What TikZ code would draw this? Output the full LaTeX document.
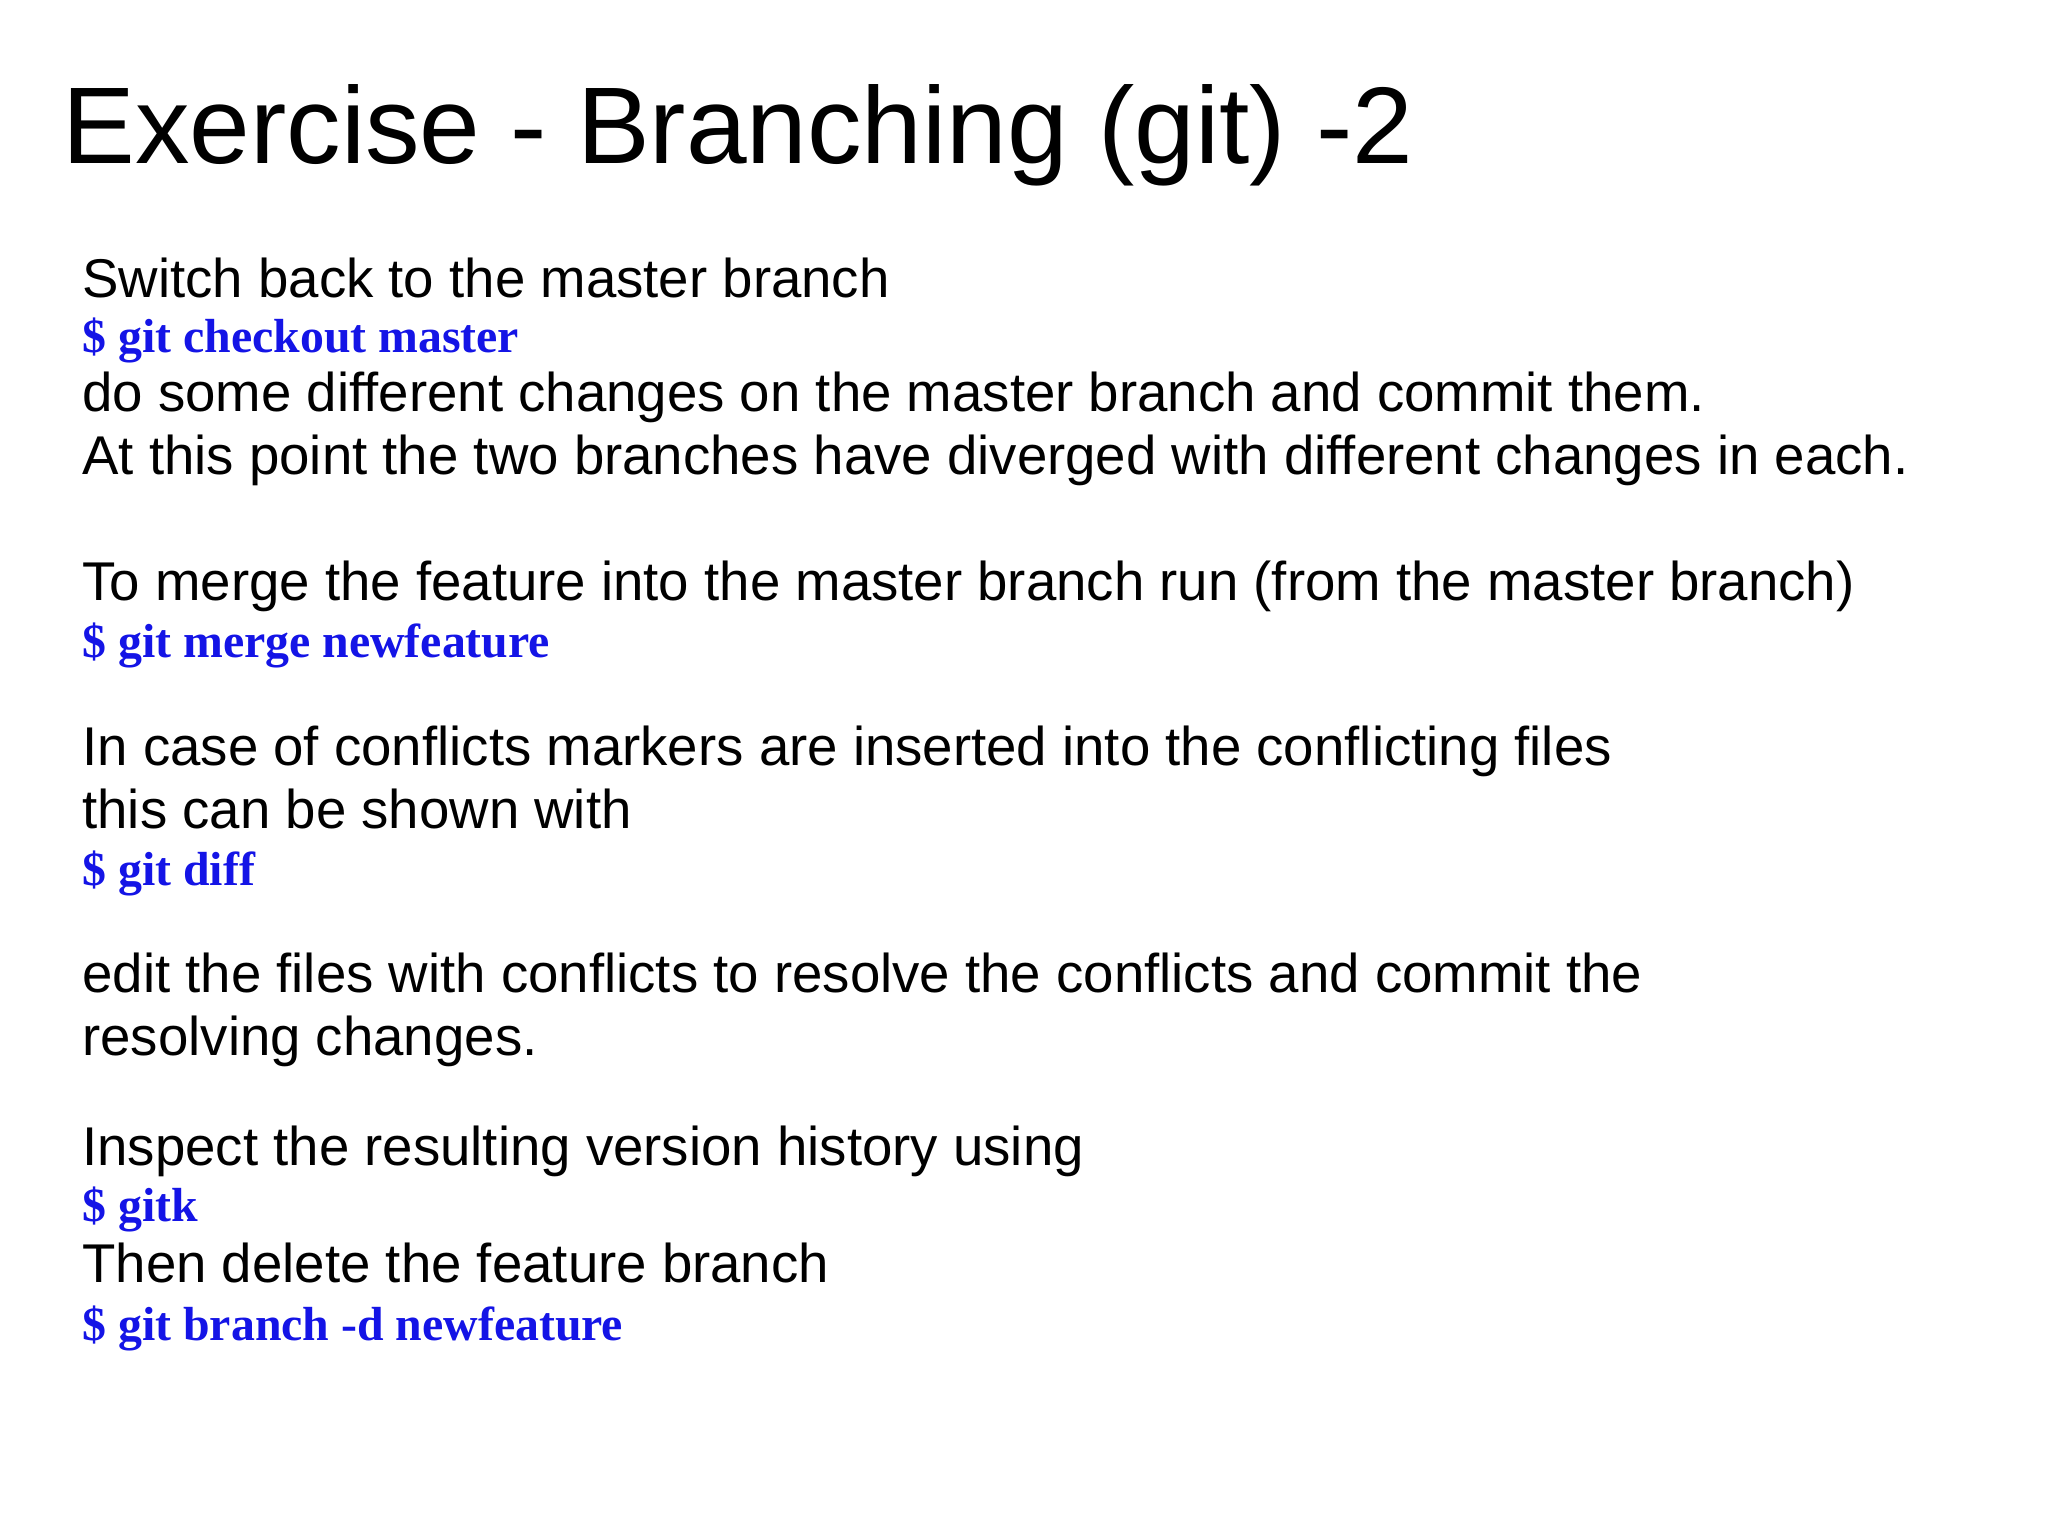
\documentclass[tikz,border=0pt]{standalone}
\usepackage{fontspec}
\setmainfont{Liberation Sans}
\newfontfamily\cmdfont{Liberation Serif}
\definecolor{cmdblue}{RGB}{20,20,230}
\begin{document}
\begin{tikzpicture}[x=1pt,y=-1pt,
  txt/.style={anchor=base west,inner sep=0pt,font=\fontsize{27.3}{30}\selectfont},
  cmd/.style={anchor=base west,inner sep=0pt,text=cmdblue,font=\cmdfont\bfseries\fontsize{23.9}{26}\selectfont}]
\fill[white] (0,0) rectangle (1024,768);
\useasboundingbox (0,0) rectangle (1024,768);
\node[anchor=base west,inner sep=0pt,font=\fontsize{54.5}{64}\selectfont] (title) at (31,81.6) {Exercise - Branching (git) -2};
\def\X{41}
\node[txt] (l1) at (\X,148.9) {Switch back to the master branch};
\node[cmd] (c1) at (\X,176.3) {\$ git checkout master};
\node[txt] (l2) at (\X,205.7) {do some different changes on the master branch and commit them.};
\node[txt] (l3) at (\X,237.0) {At this point the two branches have diverged with different changes in each.};
\node[txt] (l4) at (\X,300.4) {To merge the feature into the master branch run (from the master branch)};
\node[cmd] (c2) at (\X,328.5) {\$ git merge newfeature};
\node[txt] (l5) at (\X,382.7) {In case of conflicts markers are inserted into the conflicting files};
\node[txt] (l6) at (\X,414.0) {this can be shown with};
\node[cmd] (c3) at (\X,442.7) {\$ git diff};
\node[txt] (l7) at (\X,496.3) {edit the files with conflicts to resolve the conflicts and commit the};
\node[txt] (l8) at (\X,527.6) {resolving changes.};
\node[txt] (l9) at (\X,582.5) {Inspect the resulting version history using};
\node[cmd] (c4) at (\X,610.6) {\$ gitk};
\node[txt] (l10) at (\X,641.2) {Then delete the feature branch};
\node[cmd] (c5) at (\X,670.0) {\$ git branch -d newfeature};
\end{tikzpicture}
\end{document}
